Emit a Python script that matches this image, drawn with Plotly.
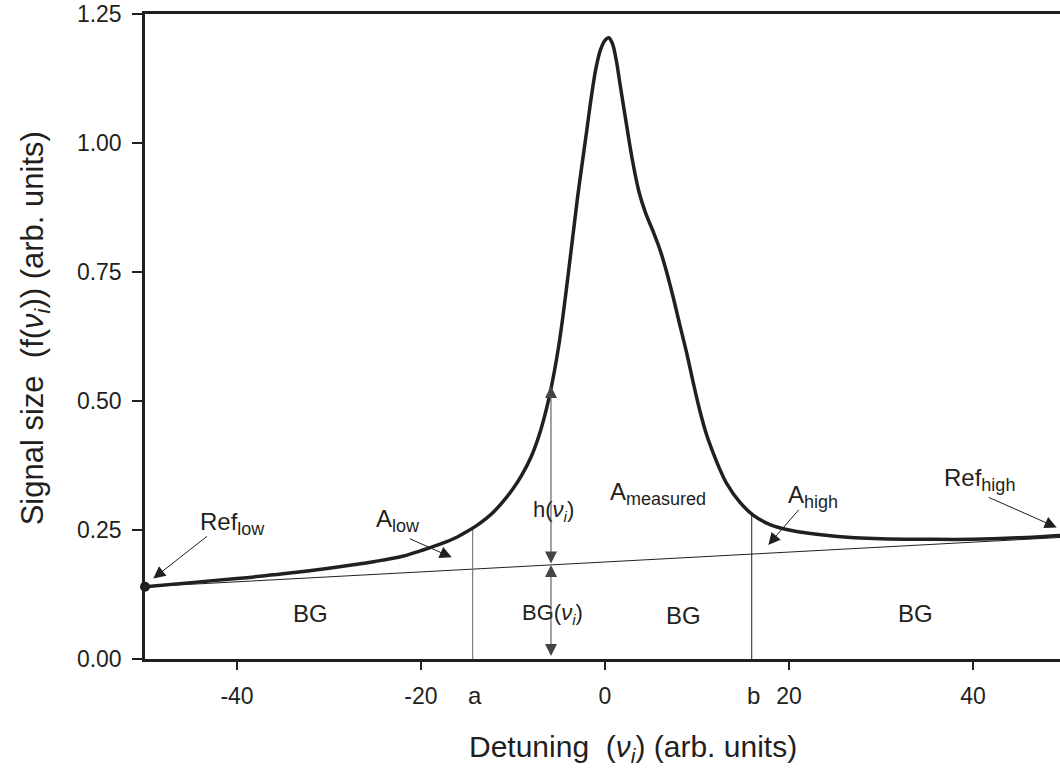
import plotly.graph_objects as go

# ---- data ----
curve_x = [-50, -45, -40, -35, -30, -25, -22, -20, -18, -16, -15, -14, -13, -12, -11, -10, -9,
           -8, -7, -6, -5, -4, -3, -2, -1.5, -1, -0.5, 0, 0.4, 0.8, 1.2, 1.63, 2.3, 3.0, 3.7,
           4.4, 5.2, 6.0, 6.7, 7.4, 8.1, 8.88, 9.6, 10.3, 11.0, 11.77, 12.5, 13.2, 14.7, 16.1,
           18, 20, 25, 30, 35, 40, 45, 50]
curve_y = [0.140, 0.148, 0.156, 0.165, 0.176, 0.189, 0.199, 0.210, 0.222, 0.237, 0.247, 0.258,
           0.271, 0.287, 0.307, 0.330, 0.358, 0.393, 0.443, 0.513, 0.610, 0.745, 0.892, 1.022,
           1.087, 1.143, 1.180, 1.199, 1.204, 1.193, 1.163, 1.115, 1.040, 0.965, 0.905, 0.865,
           0.830, 0.792, 0.750, 0.702, 0.650, 0.593, 0.535, 0.482, 0.437, 0.399, 0.367, 0.341,
           0.303, 0.279, 0.260, 0.250, 0.238, 0.233, 0.232, 0.232, 0.235, 0.240]

bg_x = [-50, 50]
bg_y = [0.140, 0.236]

a_x, a_top = -14.38, 0.254
b_x, b_top = 15.95, 0.279

ref_point_x = [-50]
ref_point_y = [0.140]

nu_x = -5.87
h_top = 0.529
bg_at_nu = 0.182

x_ticks = [-40, -20, 0, 20, 40]
y_ticks = [0, 0.25, 0.5, 0.75, 1.0, 1.25]

FONT = "Liberation Sans, Arial, sans-serif"
INK = "#231f20"
NU = "<i>ν</i><sub><i>i</i></sub>"


def sub(t, px=18):
    return "<sub><span style='font-size:%dpx'>%s</span></sub>" % (px, t)


fig = go.Figure()

# background line
fig.add_trace(go.Scatter(x=bg_x, y=bg_y, mode="lines",
                         line=dict(color=INK, width=1), hoverinfo="skip"))
# vertical boundaries a and b
fig.add_trace(go.Scatter(x=[a_x, a_x], y=[0, a_top], mode="lines",
                         line=dict(color="#666", width=1), hoverinfo="skip"))
fig.add_trace(go.Scatter(x=[b_x, b_x], y=[0, b_top], mode="lines",
                         line=dict(color=INK, width=1), hoverinfo="skip"))
# signal curve
fig.add_trace(go.Scatter(x=curve_x, y=curve_y, mode="lines",
                         line=dict(color=INK, width=3.5, shape="spline", smoothing=1.0),
                         hoverinfo="skip"))
# reference point
fig.add_trace(go.Scatter(x=ref_point_x, y=ref_point_y, mode="markers",
                         marker=dict(color=INK, size=10), cliponaxis=False, hoverinfo="skip"))

annotations = []


def label(x, y, text, size=24):
    annotations.append(dict(x=x, y=y, xref="x", yref="y", text=text, showarrow=False,
                            font=dict(family=FONT, size=size, color=INK),
                            xanchor="center", yanchor="middle"))


def arrow(x, y, ax, ay, side="end", color=INK, size=2.4):
    annotations.append(dict(x=x, y=y, ax=ax, ay=ay, xref="x", yref="y", axref="x", ayref="y",
                            text="", showarrow=True, arrowhead=2, arrowsize=size,
                            arrowwidth=1, arrowcolor=color, arrowside=side, standoff=0,
                            startstandoff=0, startarrowhead=2, startarrowsize=size))


label(-40.5, 0.262, "Ref" + sub("low"))
arrow(-49.1, 0.156, -43.1, 0.240)
label(-22.5, 0.268, "A" + sub("low"))
arrow(-16.66, 0.197, -21.4, 0.2345)
label(5.8, 0.320, "A" + sub("measured"))
label(22.6, 0.314, "A" + sub("high"))
arrow(17.75, 0.221, 21.2, 0.292)
label(40.7, 0.347, "Ref" + sub("high"))
arrow(49.1, 0.255, 41.55, 0.3145)

label(-32.0, 0.088, "BG")
label(8.5, 0.085, "BG")
label(33.7, 0.089, "BG")
label(-5.65, 0.287, "h(" + NU + ")", size=22)
label(-5.7, 0.087, "BG(" + NU + ")", size=22)

arrow(nu_x, h_top, nu_x, bg_at_nu, side="end+start", color="#444")
arrow(nu_x, bg_at_nu, nu_x, 0.003, side="end+start", color="#444")

# extra axis labels a and b
for xv, t in [(-14.1, "a"), (16.1, "b")]:
    annotations.append(dict(x=xv, y=-0.057, xref="x", yref="paper", text=t, showarrow=False,
                            font=dict(family=FONT, size=24, color=INK),
                            xanchor="center", yanchor="middle"))

# axis titles
annotations.append(dict(x=3.04, y=-0.139, xref="x", yref="paper",
                        text="Detuning\u00a0 (" + NU + ") (arb. units)", showarrow=False,
                        font=dict(family=FONT, size=30, color=INK),
                        xanchor="center", yanchor="middle"))
annotations.append(dict(x=-0.120, y=0.513, xref="paper", yref="paper", textangle=-90,
                        text="Signal size\u00a0 (f(" + NU + ")) (arb. units)", showarrow=False,
                        font=dict(family=FONT, size=31, color=INK),
                        xanchor="center", yanchor="middle"))

fig.update_layout(
    width=1060, height=769,
    margin=dict(l=145, r=0, t=14, b=110),
    paper_bgcolor="white", plot_bgcolor="white",
    showlegend=False,
    annotations=annotations,
    font=dict(family=FONT, color=INK),
)
fig.update_xaxes(range=[-50, 49.46], tickvals=x_ticks, ticktext=[str(v) for v in x_ticks],
                 ticks="outside", ticklen=8, tickwidth=2, tickcolor=INK,
                 showline=True, linewidth=2.5, linecolor=INK, mirror=True,
                 showgrid=False, zeroline=False,
                 tickfont=dict(family=FONT, size=23, color=INK), ticklabelstandoff=7)
fig.update_yaxes(range=[0, 1.25], tickvals=y_ticks, ticktext=[f"{v:.2f}" for v in y_ticks],
                 ticks="outside", ticklen=10, tickwidth=2, tickcolor=INK,
                 showline=True, linewidth=2.5, linecolor=INK, mirror=False,
                 showgrid=False, zeroline=False,
                 tickfont=dict(family=FONT, size=23, color=INK), ticklabelstandoff=6)

fig.write_html("out.html", config={"displayModeBar": False},
               post_script="document.body.style.margin='0';document.body.style.overflow='hidden';")
